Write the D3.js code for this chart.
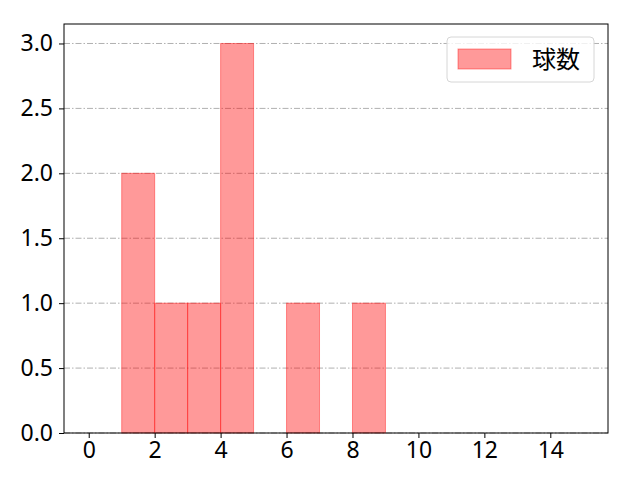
<!DOCTYPE html>
<html>
<head>
<meta charset="utf-8">
<script src="https://cdn.jsdelivr.net/npm/d3@7"></script>
<style>
  body { margin: 0; background: #fff; }
  text { font-family: "Noto Sans", "Noto Sans CJK JP", sans-serif; }
</style>
</head>
<body>
<svg id="chart" width="640" height="480"></svg>
<script>
// histogram bins (edges) and counts
const binStarts = [0, 1, 2, 3, 4, 5, 6, 7, 8, 9, 10, 11, 12, 13, 14];
const counts = [0, 2, 1, 1, 3, 0, 1, 0, 1, 0, 0, 0, 0, 0, 0];
const binWidth = 1;
const xTicks = [0, 2, 4, 6, 8, 10, 12, 14];
const yTicks = [0, 0.5, 1.0, 1.5, 2.0, 2.5, 3.0];
const seriesName = "球数";

const svg = d3.select('#chart');
const margin = { top: 24, right: 32, bottom: 47, left: 64 },
      width = +svg.attr('width') - margin.left - margin.right,
      height = +svg.attr('height') - margin.top - margin.bottom;

const g = svg.append('g').attr('transform', `translate(${margin.left},${margin.top})`);

const x = d3.scaleLinear().domain([-0.75, 15.75]).range([0, width]);
const y = d3.scaleLinear().domain([0, 3.15]).range([height, 0]);

// horizontal grid
g.append('g').selectAll('line')
    .data(yTicks)
    .enter().append('line')
    .attr('x1', 0).attr('x2', width)
    .attr('y1', d => y(d)).attr('y2', d => y(d))
    .attr('stroke', '#b0b0b0')
    .attr('stroke-width', 1)
    .attr('stroke-dasharray', '6,2,1.5,2');

// bars
const bins = binStarts.map((b, i) => ({ x0: b, x1: b + binWidth, n: counts[i] })).filter(d => d.n > 0);
g.selectAll('.bar')
    .data(bins)
    .enter().append('rect')
    .attr('class', 'bar')
    .attr('x', d => x(d.x0))
    .attr('width', d => x(d.x1) - x(d.x0))
    .attr('y', d => y(d.n))
    .attr('height', d => y(0) - y(d.n))
    .attr('fill', 'rgba(255,0,0,0.4)')
    .attr('stroke', 'rgba(255,0,0,0.4)')
    .attr('stroke-width', 1);

// axes
const xAxis = g.append('g').attr('transform', `translate(0,${height})`)
    .call(d3.axisBottom(x).tickValues(xTicks).tickSize(5).tickPadding(6).tickFormat(d3.format('d')));
const yAxis = g.append('g')
    .call(d3.axisLeft(y).tickValues(yTicks).tickSize(5).tickPadding(6).tickFormat(d3.format('.1f')));
[xAxis, yAxis].forEach(a => {
    a.select('.domain').remove();
    a.selectAll('text').style('font-size', '23px').style('fill', 'black');
    a.selectAll('line').attr('stroke', 'black');
});
xAxis.selectAll('text').attr('dy', '0.6em');

// frame
g.append('rect').attr('width', width).attr('height', height)
    .attr('fill', 'none').attr('stroke', 'black').attr('stroke-width', 1);

// legend
const legend = g.append('g').attr('transform', `translate(${width - 161},13)`);
legend.append('rect')
    .attr('width', 147).attr('height', 45).attr('rx', 4)
    .attr('fill', 'rgba(255,255,255,0.8)').attr('stroke', '#d6d6d6');
legend.append('rect')
    .attr('x', 11).attr('y', 12).attr('width', 53).attr('height', 20)
    .attr('fill', 'rgba(255,0,0,0.4)').attr('stroke', 'rgba(255,0,0,0.4)');
legend.append('text')
    .attr('x', 85).attr('y', 22).attr('dy', '0.36em')
    .style('font-family', '"Noto Sans CJK JP", sans-serif')
    .style('font-size', '24px')
    .text(seriesName);
</script>
</body>
</html>
